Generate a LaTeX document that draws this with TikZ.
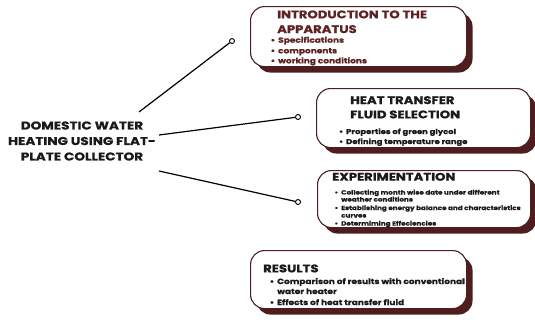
\documentclass[tikz,border=0pt]{standalone}
\usepackage{fontspec}
\setmainfont{Poppins}[FakeStretch=1.2, BoldFeatures={FakeBold=0.8}]
\usetikzlibrary{shadows}
\definecolor{maroon}{HTML}{4E1E1E}
\definecolor{maroontext}{HTML}{5E2222}
\definecolor{ink}{HTML}{1A1A1A}
\newcommand\bul{\llap{\textbullet\hspace{3pt}}}
\begin{document}
\begin{tikzpicture}[x=1pt,y=-1pt,
  box/.style={draw=maroon, line width=1.1pt, fill=white, rounded corners=14pt,
    anchor=north west, inner sep=0,
    drop shadow={shadow xshift=6pt, shadow yshift=-6pt, fill=maroon, opacity=1}},
  ttl/.style={anchor=base west, inner sep=0, font=\fontsize{11}{14}\selectfont\bfseries, text=ink},
  itm/.style={anchor=base west, inner sep=0, font=\fontsize{#1}{#1}\selectfont\bfseries, text=ink},
  maintext/.style={align=center, inner sep=0, text=ink, font=\fontsize{11.3}{15.5}\selectfont\bfseries},
  dot/.style={circle, draw=black, fill=white, line width=0.9pt, inner sep=0, minimum size=5pt},
  conn/.style={draw=black, line width=1.2pt}
]
\useasboundingbox (0,0) rectangle (535,322);

% boxes
\node[box, minimum width=216pt, minimum height=60pt] (b1) at (250,6) {};
\node[box, minimum width=214pt, minimum height=59pt] (b2) at (316,88) {};
\node[box, minimum width=213pt, minimum height=57pt] (b3) at (317,170) {};
\node[box, minimum width=216pt, minimum height=58pt] (b4) at (250,250) {};

% box 1
\node[ttl, text=maroontext] (t1a) at (277,18.3) {INTRODUCTION TO THE};
\node[ttl, text=maroontext] (t1b) at (277,33) {APPARATUS};
\node[itm=7.5, text=maroontext] (i11) at (278,42.7) {\bul Specifications};
\node[itm=7.5, text=maroontext] (i12) at (278,53.3) {\bul components};
\node[itm=7.5, text=maroontext] (i13) at (278,63.3) {\bul working conditions};

% box 2
\node[ttl] (t2a) at (350,104) {HEAT TRANSFER};
\node[ttl] (t2b) at (350,118.3) {FLUID SELECTION};
\node[itm=7] (i21) at (346,134) {\bul Properties of green glycol};
\node[itm=7] (i22) at (346,144) {\bul Defining temperature range};

% box 3
\node[ttl] (t3a) at (332,180.7) {EXPERIMENTATION};
\node[itm=6] (i31) at (341,194.5) {\bul Collecting month wise date under different};
\node[itm=6] (i32) at (341,201.5) {weather conditions};
\node[itm=6] (i33) at (341,210) {\bul Establishing energy balance and characteristics};
\node[itm=6] (i34) at (341,217.5) {curves};
\node[itm=6] (i35) at (341,225.5) {\bul Determiming Effeciencies};
\node[itm=6] (i36) at (341,233) {\bul};

% box 4
\node[ttl] (t4a) at (263,272.3) {RESULTS};
\node[itm=7.5] (i41) at (277,284) {\bul Comparison of results with conventional};
\node[itm=7.5] (i42) at (277,294) {water heater};
\node[itm=7.5] (i43) at (277,305) {\bul Effects of heat transfer fluid};

% main
\node[maintext] (main) at (82,141) {DOMESTIC WATER\\HEATING USING FLAT-\\PLATE COLLECTOR};

% connectors
\coordinate (m1) at (139,112);
\coordinate (m2) at (159,135);
\coordinate (m3) at (159,171);
\node[dot] (d1) at (232,41) {};
\node[dot] (d2) at (298,117) {};
\node[dot] (d3) at (298,202) {};
\draw[conn] (m1) -- (d1);
\draw[conn] (m2) -- (d2);
\draw[conn] (m3) -- (d3);
\end{tikzpicture}
\end{document}
